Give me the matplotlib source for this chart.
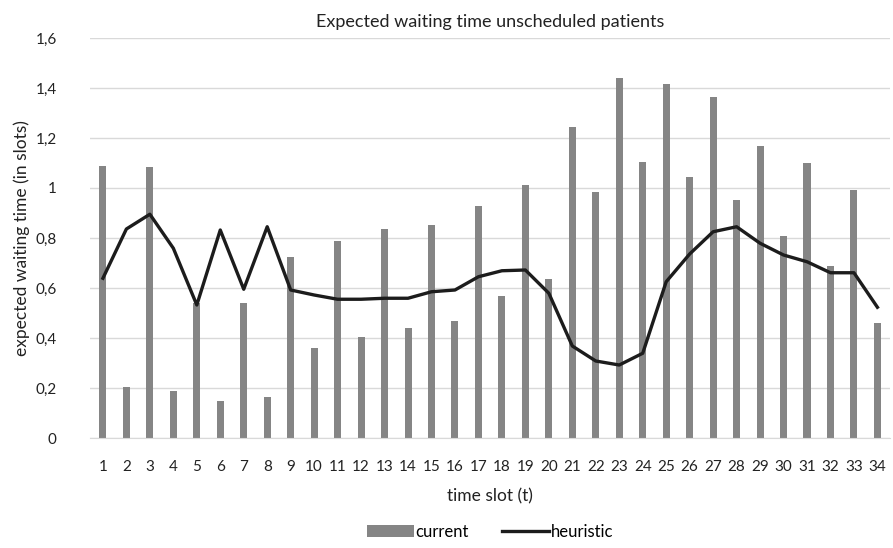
import matplotlib.pyplot as plt
import numpy as np

plt.rcParams['font.family'] = ['Lato', 'DejaVu Sans']

# time slots
slots = list(range(1, 35))

# current schedule (bars)
current = [1.088, 0.205, 1.083, 0.188, 0.54, 0.149, 0.541, 0.163, 0.725, 0.359,
           0.789, 0.403, 0.835, 0.441, 0.853, 0.467, 0.929, 0.568, 1.011, 0.637,
           1.245, 0.984, 1.441, 1.105, 1.416, 1.043, 1.365, 0.953, 1.169, 0.808,
           1.099, 0.688, 0.992, 0.46]

# heuristic (line)
heuristic = [0.639, 0.836, 0.895, 0.759, 0.532, 0.832, 0.595, 0.845, 0.592, 0.572,
             0.555, 0.555, 0.559, 0.559, 0.585, 0.592, 0.645, 0.669, 0.672, 0.579,
             0.368, 0.308, 0.292, 0.339, 0.625, 0.736, 0.825, 0.845, 0.779, 0.732,
             0.705, 0.661, 0.661, 0.523]

yticks = [0, 0.2, 0.4, 0.6, 0.8, 1.0, 1.2, 1.4, 1.6]
ytick_labels = ['0', '0,2', '0,4', '0,6', '0,8', '1', '1,2', '1,4', '1,6']

fig = plt.figure(figsize=(8.93, 5.48), dpi=100)
ax = fig.add_axes([0.1008, 0.2007, 0.8962, 0.73])

bars = ax.bar(slots, current, width=0.3, color='#858585', label='current', zorder=2)
line, = ax.plot(slots, heuristic, color='#1c1c1c', linewidth=2.4, label='heuristic', zorder=3)

ax.set_xlim(0.45, 34.55)
ax.set_ylim(0, 1.6)
ax.set_yticks(yticks)
ax.set_yticklabels(ytick_labels)
ax.set_xticks(slots)
ax.set_xticklabels([str(s) for s in slots])
ax.yaxis.grid(True, color='#d9d9d9', linewidth=1.0, zorder=0)
ax.set_axisbelow(True)

for s in ['top', 'right', 'left']:
    ax.spines[s].set_visible(False)
ax.spines['bottom'].set_color('#d9d9d9')
ax.tick_params(axis='both', length=0, labelsize=11, colors='#222222')
ax.tick_params(axis='x', pad=16)
ax.tick_params(axis='y', pad=24)

ax.set_title('Expected waiting time unscheduled patients', fontsize=13, color='#222222', pad=8)
ax.set_xlabel('time slot (t)', fontsize=12.5, color='#222222', labelpad=10)
ax.set_ylabel('expected waiting time (in slots)', fontsize=12.5, color='#222222', labelpad=4)

fig.legend([bars, line], ['current', 'heuristic'], loc='center',
           bbox_to_anchor=(490 / 893, 1 - 532 / 548), ncol=2, frameon=False,
           fontsize=12, handlelength=2.8, columnspacing=2.0, handletextpad=0.1,
           borderpad=0.1)

fig.savefig('out.png', dpi=100)
